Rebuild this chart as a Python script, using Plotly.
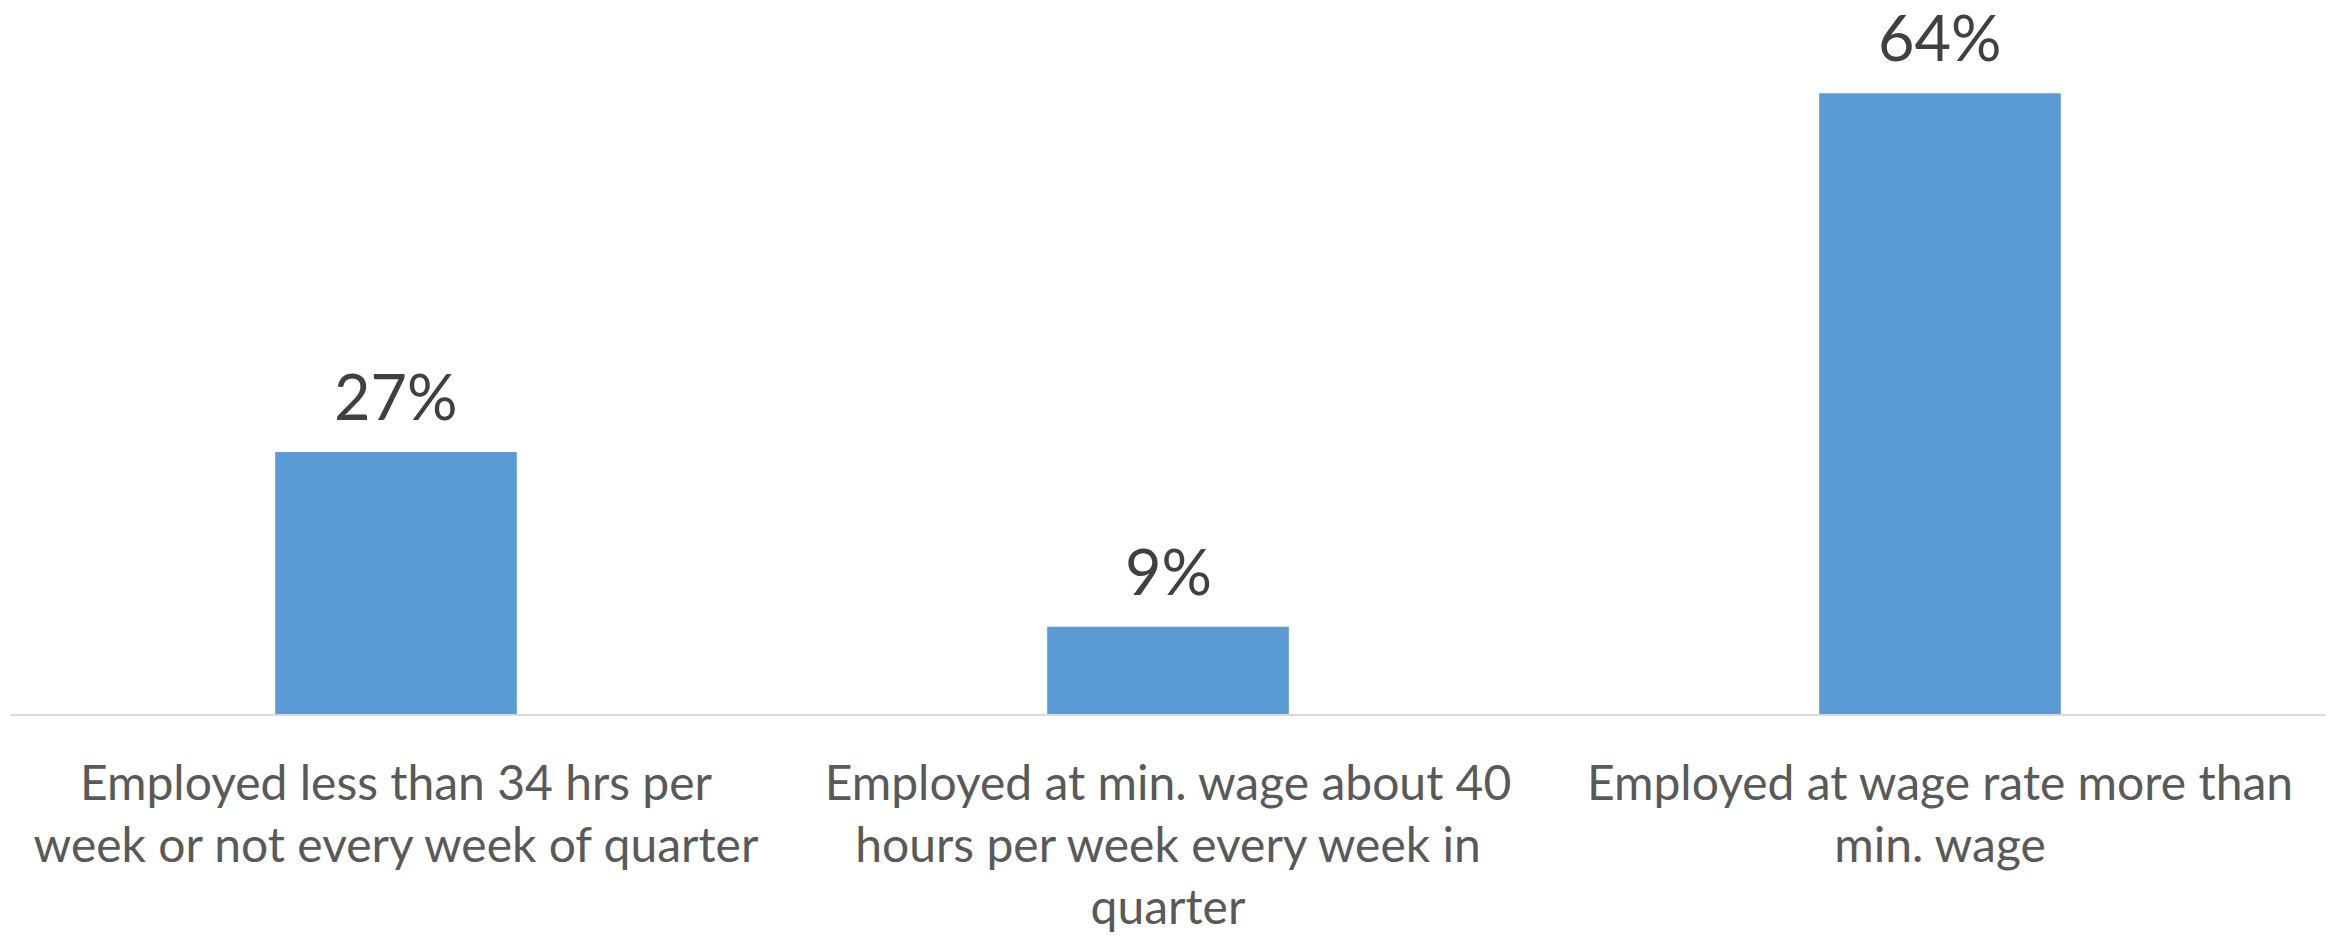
import plotly.graph_objects as go

categories = [
    "Employed less than 34 hrs per<br>week or not every week of quarter",
    "Employed at min. wage about 40<br>hours per week every week in<br>quarter",
    "Employed at wage rate more than<br>min. wage",
]
shares = [27, 9, 64]
value_labels = [f"{v}%" for v in shares]

FONT = "Lato, 'Open Sans', sans-serif"

fig = go.Figure()
fig.add_trace(go.Bar(
    x=categories,
    y=shares,
    marker=dict(color="#5B9BD5", line=dict(width=0)),
    width=0.313,
    hoverinfo="skip",
))

for cat, v, lab in zip(categories, shares, value_labels):
    fig.add_annotation(
        x=cat, y=v, text=lab, showarrow=False,
        yanchor="bottom", yshift=18, borderpad=0,
        font=dict(family=FONT, size=63, color="#404040"),
    )

fig.update_layout(
    width=2344, height=937,
    margin=dict(l=10, r=18, t=35, b=223),
    paper_bgcolor="white", plot_bgcolor="white",
    showlegend=False,
    font=dict(family=FONT),
)
fig.update_xaxes(
    showline=True, linecolor="#D9D9D9", linewidth=2,
    ticks="", showgrid=False, automargin=False,
    tickfont=dict(family=FONT, size=48, color="#595959"),
    ticklabelstandoff=26,
)
fig.update_yaxes(
    range=[0, 70], visible=False, showgrid=False, zeroline=False,
    automargin=False,
)

fig.write_html("out.html")
